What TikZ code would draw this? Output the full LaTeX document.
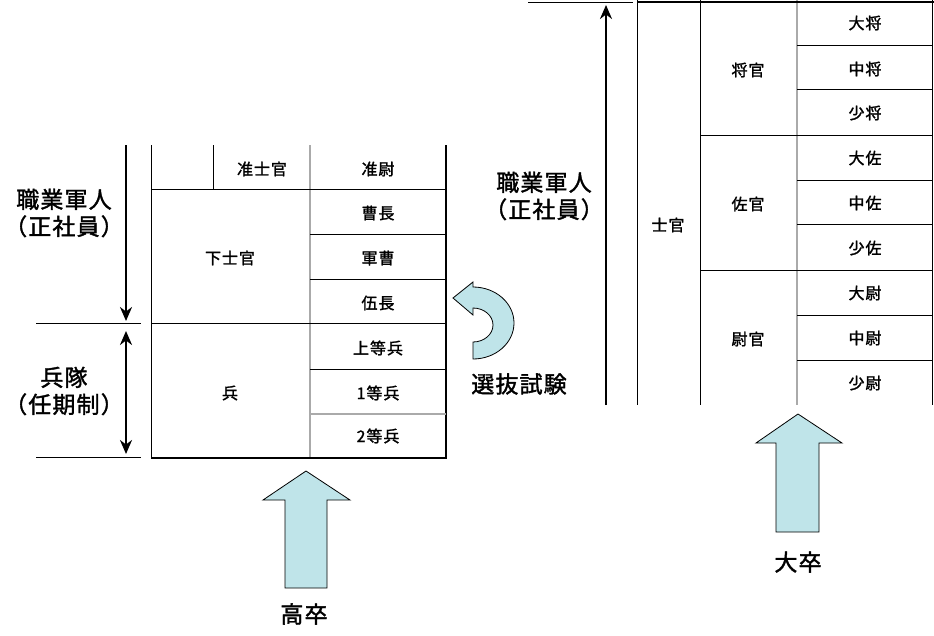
\documentclass[tikz,border=0pt]{standalone}
\usepackage{fontspec}
\setmainfont{Noto Sans CJK JP}[AutoFakeBold=1.6]
\usetikzlibrary{arrows.meta,calc}
\definecolor{paleblue}{RGB}{191,228,233}
\definecolor{rulegray}{RGB}{170,170,170}

\begin{document}
\begin{tikzpicture}[x=1pt,y=-1pt,>={Stealth[length=14pt,width=12pt]},
    cell/.style={inner sep=0pt,font=\fontsize{16pt}{18pt}\selectfont\bfseries\addfontfeatures{LetterSpace=6}},
    lab/.style={inner sep=0pt,align=center,font=\fontsize{23pt}{27pt}\selectfont\bfseries\addfontfeatures{LetterSpace=5}},
    rule/.style={line width=1pt},
    grayrule/.style={line width=1.3pt,draw=rulegray},
    heavy/.style={line width=2.6pt},
    bigarrow/.style={line width=2.6pt},
    blockarrow/.style={draw,fill=paleblue,line width=0.8pt,line join=miter}]
  \useasboundingbox (0,0) rectangle (934,635);

  % left table
  \draw[rule] (151,145) -- (151,458);
  \draw[rule] (213,145) -- (213,189);
  \draw[grayrule] (310,145) -- (310,458);
  \draw[line width=1.8pt] (446,145) -- (446,458);
  \draw[heavy] (151,458) -- (447,458);
  \draw[rule] (151,189) -- (446,189);
  \draw[rule] (151,323) -- (446,323);
  \foreach \y in {234,279,369}
    \draw[rule] (310,\y) -- (446,\y);
  \draw[grayrule] (310,414) -- (446,414);

  \node[cell] (junshikan) at (262,169) {准士官};
  \node[cell] (junni) at (378,169) {准尉};
  \node[cell] (socho) at (378,213) {曹長};
  \node[cell] (gunso) at (378,258) {軍曹};
  \node[cell] (gocho) at (378,303) {伍長};
  \node[cell] (jotohei) at (378,348) {上等兵};
  \node[cell] (ittohei) at (378,393) {1等兵};
  \node[cell] (nitohei) at (378,436) {2等兵};
  \node[cell] (kashikan) at (230,258) {下士官};
  \node[cell] (hei) at (230,393) {兵};

  % left labels and arrows
  \draw[rule] (36,323) -- (141,323);
  \draw[rule] (36,457) -- (141,457);
  \node[lab] (shokugyoL) at (64,213) {職業軍人\\（正社員）};
  \node[lab] (heitai) at (64,391) {兵隊\\（任期制）};
  \coordinate (downA) at (126,145);
  \coordinate (downB) at (126,321);
  \coordinate (bothA) at (126,331);
  \coordinate (bothB) at (126,454);
  \draw[bigarrow,->] (downA) -- (downB);
  \draw[bigarrow,<->] (bothA) -- (bothB);

  % right table
  \draw[rule] (637,0) -- (637,405);
  \draw[rule] (700,0) -- (700,405);
  \draw[grayrule] (797,0) -- (797,405);
  \draw[line width=1.5pt] (932.5,0) -- (932.5,405);
  \draw[heavy] (637,2) -- (934,2);
  \draw[rule] (700,135) -- (933,135);
  \draw[rule] (700,270) -- (933,270);
  \foreach \y in {45,89,180,224,315,360}
    \draw[rule] (797,\y) -- (933,\y);

  \node[cell] (taisho) at (865,23) {大将};
  \node[cell] (chujo) at (865,69) {中将};
  \node[cell] (shosho) at (865,113) {少将};
  \node[cell] (taisa) at (865,158) {大佐};
  \node[cell] (chusa) at (865,203) {中佐};
  \node[cell] (shosa) at (865,248) {少佐};
  \node[cell] (taii) at (865,293) {大尉};
  \node[cell] (chui) at (865,338) {中尉};
  \node[cell] (shoi) at (865,383) {少尉};
  \node[cell] (shokan) at (748,70) {将官};
  \node[cell] (sakan) at (748,204) {佐官};
  \node[cell] (ikan) at (748,339) {尉官};
  \node[cell] (shikan) at (668,225) {士官};

  % right labels and arrow
  \draw[rule] (528,2) -- (633,2);
  \node[lab] (shokugyoR) at (544,196) {職業軍人\\（正社員）};
  \coordinate (upA) at (606,405);
  \coordinate (upB) at (606,5);
  \draw[bigarrow,->] (upA) -- (upB);

  % selection exam
  \draw[blockarrow] (473,287) arc[start angle=-90,end angle=90,x radius=41,y radius=36]
    -- (473,342) arc[start angle=90,end angle=-90,x radius=20,y radius=17]
    -- (473,315) -- (453,298) -- (473,282) -- cycle;
  \node[lab] (senbatsu) at (519,384) {選抜試験};

  % entry routes
  \draw[blockarrow] (285,588) -- (285,500) -- (263,500) -- (306,471) -- (350,500)
    -- (327,500) -- (327,588) -- cycle;
  \node[lab] (kosotsu) at (304,614) {高卒};
  \draw[blockarrow] (776,532) -- (776,443) -- (756,443) -- (798,414) -- (842,443)
    -- (819,443) -- (819,532) -- cycle;
  \node[lab] (daisotsu) at (798,562) {大卒};
\end{tikzpicture}
\end{document}
